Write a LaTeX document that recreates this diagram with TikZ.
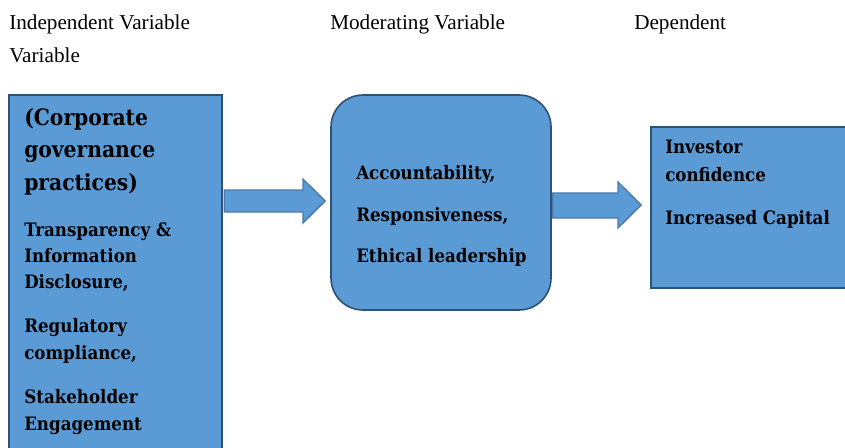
\documentclass[tikz,border=0pt]{standalone}
\usepackage{fontspec}
\setmainfont{Liberation Serif}
\newfontfamily\boxfont{DejaVu Serif Condensed}
\usetikzlibrary{calc}
\definecolor{boxfill}{HTML}{5B9BD5}
\definecolor{boxline}{HTML}{2E5275}
\definecolor{arrowline}{HTML}{4A7AAA}
\begin{document}
\begin{tikzpicture}[x=0.75pt,y=-0.75pt,
  box/.style={draw=boxline,fill=boxfill,line width=1.2pt,inner sep=0pt},
  blockarrow/.style={draw=arrowline,fill=boxfill,line width=1pt,line join=miter},
  head/.style={anchor=base west,inner sep=0pt,font=\fontsize{15.9}{18}\selectfont},
  body/.style={anchor=base west,inner sep=0pt,font=\boxfont\bfseries\fontsize{13.9}{16}\selectfont},
  title/.style={anchor=base west,inner sep=0pt,font=\boxfont\bfseries\fontsize{16.9}{19}\selectfont}]
\useasboundingbox (0,0) rectangle (845,447);
% headings
\node[head] (h1) at (9,29) {Independent Variable};
\node[head] (h1b) at (9,62) {Variable};
\node[head] (h2) at (330,29) {Moderating Variable};
\node[head] (h3) at (634,29) {Dependent};
% boxes
\node[box,minimum width=159.75pt,minimum height=266.25pt] (L) at (115.5,272.5) {};
\node[box,rounded corners=24pt,minimum width=165pt,minimum height=161.25pt] (M) at (441,202.5) {};
\node[box,minimum width=149.25pt,minimum height=120.75pt] (R) at (750.5,207.5) {};
% block arrows
\draw[blockarrow] ($(L.east|-0,190)+(1.5,0)$) -- (303,190) -- (303,179) -- ($(M.west|-0,201)+(-5,0)$) -- (303,223) -- (303,212) -- ($(L.east|-0,212)+(1.5,0)$) -- cycle;
\draw[blockarrow] ($(M.east|-0,193)+(1,0)$) -- (618,193) -- (618,182) -- ($(R.west|-0,205)+(-9,0)$) -- (618,228) -- (618,218) -- ($(M.east|-0,218)+(1,0)$) -- cycle;
% left box text
\node[title] (t1) at (24,125) {(Corporate};
\node[title] (t2) at (24,157) {governance};
\node[title] (t3) at (24,190) {practices)};
\node[body] (l1) at (24,236) {Transparency \&};
\node[body] (l2) at (24,262) {Information};
\node[body] (l3) at (24,288) {Disclosure,};
\node[body] (l4) at (24,332) {Regulatory};
\node[body] (l5) at (24,359) {compliance,};
\node[body] (l6) at (24,403) {Stakeholder};
\node[body] (l7) at (24,430) {Engagement};
% middle text
\node[body] (m1) at (356,179) {Accountability,};
\node[body] (m2) at (356,221) {Responsiveness,};
\node[body] (m3) at (356,262) {Ethical leadership};
% right text
\node[body] (r1) at (665,153) {Investor};
\node[body] (r2) at (665,181) {confidence};
\node[body] (r3) at (665,224) {Increased Capital};
\end{tikzpicture}
\end{document}
